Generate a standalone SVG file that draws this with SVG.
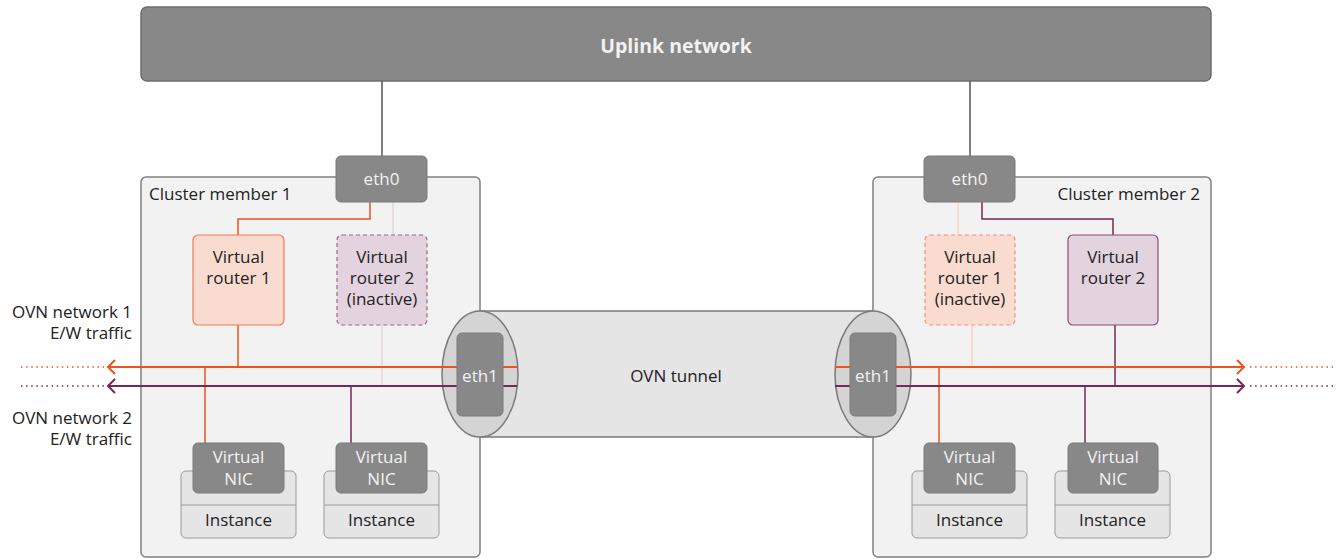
<svg xmlns="http://www.w3.org/2000/svg" width="1340" height="559" viewBox="0 0 1340 559">
  <style>
    text { font-family: "Open Sans", "Noto Sans", "DejaVu Sans", sans-serif; font-size: 17px; fill: #222; }
    .c { text-anchor: middle; }
    .r { text-anchor: end; }
    .light { fill: #f2f2f2; }
    .uplink { fill: #888; stroke: #6e6e6e; stroke-width: 1.5; }
    .cluster { fill: #f2f2f2; stroke: #808080; stroke-width: 1.5; }
    .port { fill: #888; stroke: #7a7a7a; stroke-width: 1; }
    .inst { fill: #e5e5e5; stroke: #9a9a9a; stroke-width: 1; }
    .vr-org { fill: #fadbd0; stroke: #f07a52; stroke-width: 1.2; }
    .vr-org-off { fill: #fadbd0; stroke: #f4906c; stroke-width: 1.2; stroke-dasharray: 4 3; }
    .vr-pur { fill: #e3d3de; stroke: #8e4f74; stroke-width: 1.2; }
    .vr-pur-off { fill: #e3d3de; stroke: #9a6585; stroke-width: 1.2; stroke-dasharray: 4 3; }
    .tube { fill: #e5e5e5; stroke: #7a7a7a; stroke-width: 1.5; }
    .cap { fill: #d4d4d4; stroke: #7a7a7a; stroke-width: 1.5; }
    .w { fill: none; stroke-width: 2; }
    .thin { stroke-width: 1.5; }
    .org { stroke: #e95420; }
    .pur { stroke: #772953; }
    .gry { stroke: #555; stroke-width: 1.5; fill: none; }
    .org-pale { stroke: #fbd3c4; stroke-width: 1.5; fill: none; }
    .pur-pale { stroke: #e6d6e0; stroke-width: 1.5; fill: none; }
    .dot { fill: none; stroke-width: 1.5; stroke-dasharray: 1.5 3.6; }
  </style>

  <!-- uplink -->
  <g id="uplink">
    <rect class="uplink" x="141" y="7" width="1070" height="74" rx="6"/>
    <text class="c light" x="676" y="53" style="font-weight:bold;font-size:19.5px">Uplink network</text>
  </g>

  <!-- hosts -->
  <g id="cluster-member-1">
    <rect class="cluster" x="141" y="177" width="339" height="380" rx="5"/>
    <text x="149" y="200">Cluster member 1</text>
  </g>
  <g id="cluster-member-2">
    <rect class="cluster" x="873" y="177" width="338" height="380" rx="5"/>
    <text class="r" x="1200" y="200">Cluster member 2</text>
  </g>

  <!-- tunnel between the hosts -->
  <g id="ovn-tunnel">
    <rect class="tube" x="480" y="311" width="393" height="126"/>
    <ellipse class="cap" cx="480" cy="374" rx="38" ry="63"/>
    <ellipse class="cap" cx="873" cy="374" rx="38" ry="63"/>
    <text class="c" x="676" y="382">OVN tunnel</text>
  </g>

  <!-- connectors -->
  <g id="connectors">
    <!-- uplinks to eth0 -->
    <line class="gry" x1="382" y1="81" x2="382" y2="156"/>
    <line class="gry" x1="970" y1="81" x2="970" y2="156"/>

    <!-- member 1 router links -->
    <polyline class="w thin org" points="370,202 370,219 238,219 238,235"/>
    <line class="w thin org" x1="238" y1="325" x2="238" y2="367"/>
    <line class="pur-pale" x1="393" y1="202" x2="393" y2="235"/>
    <line class="pur-pale" x1="382" y1="325" x2="382" y2="386"/>

    <!-- member 2 router links -->
    <line class="org-pale" x1="958" y1="202" x2="958" y2="235"/>
    <line class="org-pale" x1="972" y1="325" x2="972" y2="367"/>
    <polyline class="w thin pur" points="982,202 982,219 1113,219 1113,235"/>
    <line class="w thin pur" x1="1115" y1="325" x2="1115" y2="386"/>

    <!-- NIC drops -->
    <line class="w thin org" x1="205" y1="367" x2="205" y2="443"/>
    <line class="w thin pur" x1="351" y1="386" x2="351" y2="443"/>
    <line class="w thin org" x1="939" y1="367" x2="939" y2="443"/>
    <line class="w thin pur" x1="1085" y1="386" x2="1085" y2="443"/>

    <!-- E/W traffic, member 1 side -->
    <line class="w org" x1="108" y1="367" x2="517" y2="367"/>
    <line class="w pur" x1="108" y1="386" x2="517" y2="386"/>
    <polyline class="w org" points="115,360 108,367 115,374"/>
    <polyline class="w pur" points="115,379 108,386 115,393"/>
    <line class="dot org" x1="21" y1="367" x2="104" y2="367"/>
    <line class="dot pur" x1="21" y1="386" x2="104" y2="386"/>

    <!-- E/W traffic, member 2 side -->
    <line class="w org" x1="835" y1="367" x2="1244" y2="367"/>
    <line class="w pur" x1="835" y1="386" x2="1244" y2="386"/>
    <polyline class="w org" points="1237,360 1244,367 1237,374"/>
    <polyline class="w pur" points="1237,379 1244,386 1237,393"/>
    <line class="dot org" x1="1250" y1="367" x2="1333" y2="367"/>
    <line class="dot pur" x1="1250" y1="386" x2="1333" y2="386"/>
  </g>

  <!-- network labels -->
  <g id="labels">
    <text class="r" x="132" y="318">OVN network 1</text>
    <text class="r" x="132" y="339">E/W traffic</text>
    <text class="r" x="132" y="424">OVN network 2</text>
    <text class="r" x="132" y="445">E/W traffic</text>
  </g>

  <!-- host ports -->
  <g id="eth0-1">
    <rect class="port" x="336" y="156" width="91" height="46" rx="5"/>
    <text class="c light" x="381.5" y="185">eth0</text>
  </g>
  <g id="eth0-2">
    <rect class="port" x="924" y="156" width="91" height="46" rx="5"/>
    <text class="c light" x="969.5" y="185">eth0</text>
  </g>
  <g id="eth1-1">
    <rect class="port" x="457" y="333" width="46" height="83" rx="5"/>
    <text class="c light" x="480" y="382">eth1</text>
  </g>
  <g id="eth1-2">
    <rect class="port" x="850" y="333" width="46" height="83" rx="5"/>
    <text class="c light" x="873" y="382">eth1</text>
  </g>

  <!-- routers -->
  <g id="vr1-member1">
    <rect class="vr-org" x="193" y="235" width="91" height="90" rx="5"/>
    <text class="c" x="238.5" y="263">Virtual</text>
    <text class="c" x="238.5" y="284">router 1</text>
  </g>
  <g id="vr2-member1">
    <rect class="vr-pur-off" x="337" y="235" width="90" height="90" rx="5"/>
    <text class="c" x="382" y="263">Virtual</text>
    <text class="c" x="382" y="284">router 2</text>
    <text class="c" x="382" y="305">(inactive)</text>
  </g>
  <g id="vr1-member2">
    <rect class="vr-org-off" x="925" y="235" width="90" height="90" rx="5"/>
    <text class="c" x="970" y="263">Virtual</text>
    <text class="c" x="970" y="284">router 1</text>
    <text class="c" x="970" y="305">(inactive)</text>
  </g>
  <g id="vr2-member2">
    <rect class="vr-pur" x="1068" y="235" width="90" height="90" rx="5"/>
    <text class="c" x="1113" y="263">Virtual</text>
    <text class="c" x="1113" y="284">router 2</text>
  </g>

  <!-- instances -->
  <g id="instance-1a">
    <rect class="inst" x="181" y="471" width="115" height="67" rx="5"/>
    <line x1="181" y1="505" x2="296" y2="505" stroke="#9a9a9a"/>
    <text class="c" x="238.5" y="526">Instance</text>
    <rect class="port" x="193" y="443" width="91" height="50" rx="5"/>
    <text class="c light" x="238.5" y="463">Virtual</text>
    <text class="c light" x="238.5" y="485">NIC</text>
  </g>
  <g id="instance-1b">
    <rect class="inst" x="324" y="471" width="115" height="67" rx="5"/>
    <line x1="324" y1="505" x2="439" y2="505" stroke="#9a9a9a"/>
    <text class="c" x="381.5" y="526">Instance</text>
    <rect class="port" x="336" y="443" width="91" height="50" rx="5"/>
    <text class="c light" x="381.5" y="463">Virtual</text>
    <text class="c light" x="381.5" y="485">NIC</text>
  </g>
  <g id="instance-2a">
    <rect class="inst" x="912" y="471" width="115" height="67" rx="5"/>
    <line x1="912" y1="505" x2="1027" y2="505" stroke="#9a9a9a"/>
    <text class="c" x="969.5" y="526">Instance</text>
    <rect class="port" x="924" y="443" width="91" height="50" rx="5"/>
    <text class="c light" x="969.5" y="463">Virtual</text>
    <text class="c light" x="969.5" y="485">NIC</text>
  </g>
  <g id="instance-2b">
    <rect class="inst" x="1055" y="471" width="115" height="67" rx="5"/>
    <line x1="1055" y1="505" x2="1170" y2="505" stroke="#9a9a9a"/>
    <text class="c" x="1112.5" y="526">Instance</text>
    <rect class="port" x="1068" y="443" width="90" height="50" rx="5"/>
    <text class="c light" x="1113" y="463">Virtual</text>
    <text class="c light" x="1113" y="485">NIC</text>
  </g>
</svg>
